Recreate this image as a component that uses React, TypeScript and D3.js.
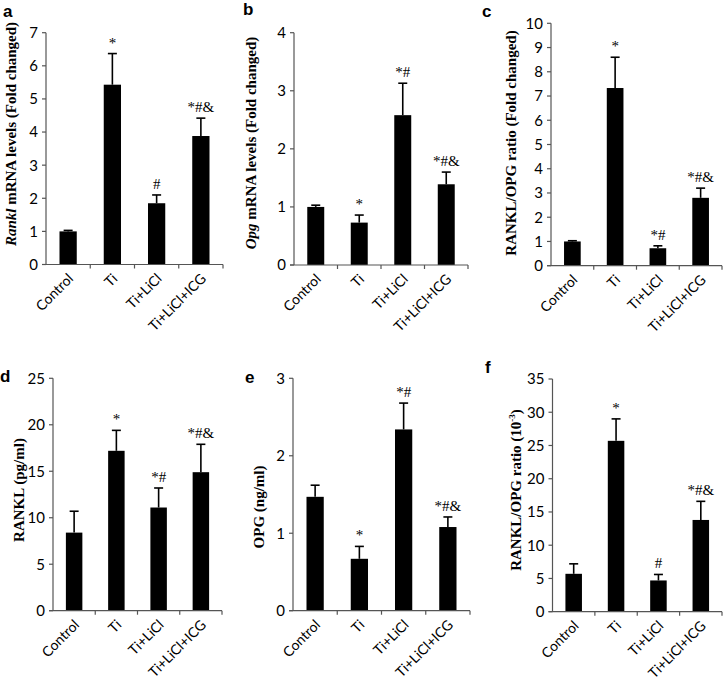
import React from "react";
import * as d3 from "d3";

const categories = ["Control", "Ti", "Ti+LiCl", "Ti+LiCl+ICG"];

const ranklMrna = [1.0, 5.43, 1.85, 3.88];
const ranklMrnaErr = [0.03, 0.94, 0.25, 0.54];
const ranklMrnaSig = ["", "*", "#", "*#&"];

const opgMrna = [1.0, 0.73, 2.58, 1.39];
const opgMrnaErr = [0.03, 0.13, 0.55, 0.21];
const opgMrnaSig = ["", "*", "*#", "*#&"];

const ratioMrna = [1.0, 7.33, 0.72, 2.8];
const ratioMrnaErr = [0.03, 1.27, 0.1, 0.4];
const ratioMrnaSig = ["", "*", "*#", "*#&"];

const ranklProt = [8.4, 17.2, 11.1, 14.9];
const ranklProtErr = [2.3, 2.2, 2.1, 3.0];
const ranklProtSig = ["", "*", "*#", "*#&"];

const opgProt = [1.47, 0.67, 2.34, 1.08];
const opgProtErr = [0.15, 0.16, 0.34, 0.13];
const opgProtSig = ["", "*", "*#", "*#&"];

const ratioProt = [5.7, 25.7, 4.7, 13.8];
const ratioProtErr = [1.5, 3.3, 0.9, 2.8];
const ratioProtSig = ["", "*", "#", "*#&"];

const yMaxes = [7, 4, 10, 25, 3, 35];
const ySteps = [1, 1, 1, 5, 1, 5];
const panelLetters = ["a", "b", "c", "d", "e", "f"];

type Layout = {
  ax: number; axEnd: number; yTop: number; y0: number;
  labX: number; labY: number; letX: number; letY: number;
};

const layouts: Layout[] = [
  { ax: 46, axEnd: 223, yTop: 32.7, y0: 264.5, labX: 16, labY: 134, letX: 3, letY: 17 },
  { ax: 294, axEnd: 468, yTop: 32.7, y0: 265, labX: 256, labY: 143, letX: 243, letY: 15 },
  { ax: 551, axEnd: 722, yTop: 23.3, y0: 265.7, labX: 516, labY: 143, letX: 482, letY: 17 },
  { ax: 53, axEnd: 222, yTop: 378.3, y0: 610.7, labX: 24, labY: 490, letX: 0, letY: 382 },
  { ax: 293, axEnd: 470, yTop: 378.3, y0: 610.7, labX: 264, labY: 507, letX: 245, letY: 383 },
  { ax: 552.5, axEnd: 722, yTop: 379, y0: 611.7, labX: 521, labY: 490, letX: 485, letY: 373 },
];

const values = [ranklMrna, opgMrna, ratioMrna, ranklProt, opgProt, ratioProt];
const errors = [ranklMrnaErr, opgMrnaErr, ratioMrnaErr, ranklProtErr, opgProtErr, ratioProtErr];
const sigs = [ranklMrnaSig, opgMrnaSig, ratioMrnaSig, ranklProtSig, opgProtSig, ratioProtSig];

const SANS = "Lato, 'Open Sans', sans-serif";
const SERIF = "'Liberation Serif', 'DejaVu Serif', serif";

function yLabel(i: number) {
  switch (i) {
    case 0:
      return (<><tspan fontStyle="italic">Rankl</tspan> mRNA levels (Fold changed)</>);
    case 1:
      return (<><tspan fontStyle="italic">Opg</tspan> mRNA levels (Fold changed)</>);
    case 2:
      return "RANKL/OPG ratio (Fold changed)";
    case 3:
      return "RANKL (pg/ml)";
    case 4:
      return "OPG (ng/ml)";
    default:
      return (<>RANKL/OPG ratio (10<tspan fontSize="9" dy="-6">-3</tspan><tspan dy="6">)</tspan></>);
  }
}

function Panel({ i }: { i: number }) {
  const L = layouts[i];
  const vals = values[i];
  const errs = errors[i];
  const sig = sigs[i];
  const x = d3.scaleBand<string>().domain(categories).range([L.ax, L.axEnd]).padding(0);
  const y = d3.scaleLinear().domain([0, yMaxes[i]]).range([L.y0, L.yTop]);
  const ticks = d3.range(0, yMaxes[i] + ySteps[i] / 2, ySteps[i]);
  const bw = x.bandwidth() * 0.39;
  const boundaries = categories.map((c) => (x(c) as number) + x.bandwidth());
  const axisColor = "#555";
  return (
    <g>
      <text x={L.letX} y={L.letY} fontFamily="'Liberation Sans', Arial, sans-serif" fontWeight="bold" fontSize="17" fill="#000">{panelLetters[i]}</text>
      <text transform={`translate(${L.labX},${L.labY}) rotate(-90)`} textAnchor="middle" fontFamily={SERIF} fontWeight="bold" fontSize="15" fill="#000">{yLabel(i)}</text>
      {categories.map((c, k) => {
        const cx = (x(c) as number) + x.bandwidth() / 2;
        const top = y(vals[k]);
        const et = y(vals[k] + errs[k]);
        return (
          <g key={c}>
            <rect x={cx - bw / 2} y={top} width={bw} height={L.y0 - top} fill="#000" />
            <line x1={cx} x2={cx} y1={top} y2={et} stroke="#000" strokeWidth={1.6} />
            <line x1={cx - 4.5} x2={cx + 4.5} y1={et} y2={et} stroke="#000" strokeWidth={1.6} />
            {sig[k] && (
              <text x={cx} y={et - 6} textAnchor="middle" fontFamily={SERIF} fontSize="15" fill="#000">{sig[k]}</text>
            )}
            <text transform={`translate(${cx + 6},${L.y0 + 15}) rotate(-45)`} textAnchor="end" fontFamily={SANS} fontSize="14" fill="#000">{c}</text>
          </g>
        );
      })}
      <line x1={L.ax} x2={L.ax} y1={L.yTop} y2={L.y0} stroke={axisColor} strokeWidth={1.2} />
      {ticks.map((t) => (
        <g key={t}>
          <line x1={L.ax - 4} x2={L.ax} y1={y(t)} y2={y(t)} stroke={axisColor} strokeWidth={1.2} />
          <text x={L.ax - 8} y={y(t)} dy="0.36em" textAnchor="end" fontFamily={SANS} fontSize="15" fill="#000">{t}</text>
        </g>
      ))}
      <line x1={L.ax - 4} x2={L.axEnd} y1={L.y0} y2={L.y0} stroke={axisColor} strokeWidth={1.2} />
      {boundaries.map((b, k) => (
        <line key={k} x1={b} x2={b} y1={L.y0} y2={L.y0 + 4} stroke={axisColor} strokeWidth={1.2} />
      ))}
    </g>
  );
}

export default function App() {
  return (
    <div style={{ position: "absolute", left: 0, top: 0 }}>
      <svg width={723} height={681} style={{ display: "block", background: "#fff" }}>
        {layouts.map((_, i) => (
          <Panel key={i} i={i} />
        ))}
      </svg>
    </div>
  );
}
